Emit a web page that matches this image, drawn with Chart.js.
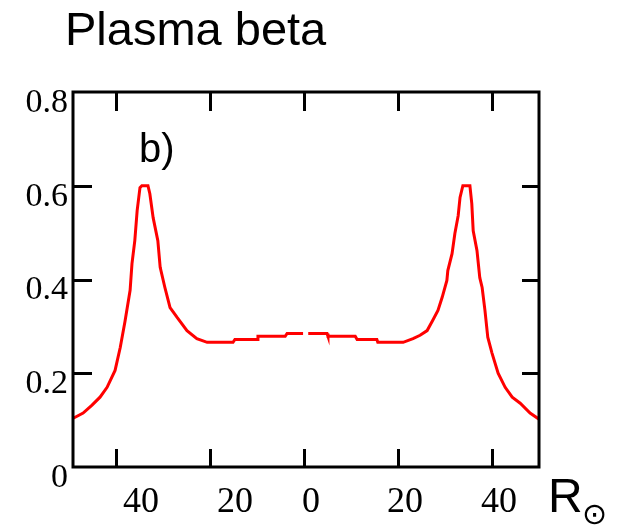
<!DOCTYPE html>
<html lang="en">

<head>
    <meta charset="UTF-8">
    <title>Plasma beta</title>
    <script src="https://cdn.jsdelivr.net/npm/chart.js@4.4.0/dist/chart.umd.min.js"></script>
    <style>
        html,
        body {
            margin: 0;
            background: #fff;
        }

        .wrap {
            position: relative;
            width: 617px;
            height: 528px;
        }

        .txt {
            position: absolute;
            font-family: "Liberation Sans", Arial, sans-serif;
            color: #000;
            white-space: nowrap;
        }

        #title {
            left: 65px;
            top: 5px;
            font-size: 47px;
            line-height: 47px;
        }

        #panel {
            left: 139px;
            top: 128px;
            font-size: 40px;
            line-height: 40px;
        }

        #unit {
            left: 548px;
            top: 472px;
            font-size: 48px;
            line-height: 48px;
        }

        #sun {
            left: 582px;
            top: 499px;
            font-family: "DejaVu Sans", sans-serif;
            font-size: 30px;
            line-height: 30px;
        }
    </style>
</head>

<body>
    <div class="wrap">
        <canvas id="myChart" width="617" height="528"></canvas>
        <div class="txt" id="title">Plasma beta</div>
        <div class="txt" id="panel">b)</div>
        <div class="txt" id="unit">R</div>
        <div class="txt" id="sun">⊙</div>
    </div>

    <script>
        // distance (solar radii) and plasma beta
        var xs = [-49.1, -47.0, -45.1, -43.4, -41.9, -40.2, -39.1, -38.1, -37.0, -36.6, -36.0, -35.5, -34.9,
            -34.5, -33.2, -32.8, -32.1, -31.1, -30.6, -29.6, -28.5, -27.0, -24.9, -22.8, -20.6, -15.1, -14.7,
            -10.0, -9.8, -4.0, -3.6, -0.2, 0.4, 0.9, 4.9, 5.1, 10.9, 11.3, 15.5, 15.7, 21.1, 23.2, 24.7, 26.2,
            27.4, 28.5, 29.4, 30.4, 30.6, 31.5, 32.1, 32.8, 33.2, 33.8, 35.3, 35.7, 36.0, 36.8, 37.4, 37.9,
            38.5, 39.1, 40.0, 41.3, 42.8, 44.3, 46.0, 48.1, 50.0];
        var beta = [0.104, 0.115, 0.132, 0.149, 0.17, 0.206, 0.255, 0.31, 0.377, 0.434, 0.483, 0.547, 0.596,
            0.6, 0.6, 0.583, 0.532, 0.483, 0.426, 0.383, 0.34, 0.319, 0.291, 0.274, 0.266, 0.266, 0.272,
            0.272, 0.279, 0.279, 0.285, 0.285, null, 0.285, 0.285, 0.279, 0.279, 0.272, 0.272, 0.266, 0.266,
            0.274, 0.281, 0.291, 0.313, 0.334, 0.362, 0.398, 0.419, 0.455, 0.498, 0.536, 0.575, 0.6, 0.6,
            0.562, 0.504, 0.462, 0.404, 0.383, 0.334, 0.277, 0.243, 0.2, 0.17, 0.149, 0.136, 0.115, 0.102];

        var xTicks = [-40, -20, 0, 20, 40];
        var yTicks = [0, 0.2, 0.4, 0.6, 0.8];

        // box round the plot with inward ticks on all four sides
        var framePlugin = {
            id: 'frame',
            afterDatasetsDraw: function (chart) {
                var ctx = chart.ctx;
                var a = chart.chartArea;
                var sx = chart.scales.x;
                var sy = chart.scales.y;
                ctx.save();
                ctx.strokeStyle = '#000';
                ctx.lineWidth = 3;
                ctx.lineCap = 'butt';
                ctx.strokeRect(a.left, a.top, a.right - a.left, a.bottom - a.top);
                ctx.beginPath();
                xTicks.forEach(function (v) {
                    var px = Math.round(sx.getPixelForValue(v)) + 0.5;
                    ctx.moveTo(px, a.bottom);
                    ctx.lineTo(px, a.bottom - 18);
                    ctx.moveTo(px, a.top);
                    ctx.lineTo(px, a.top + 19);
                });
                yTicks.slice(1, -1).forEach(function (v) {
                    var py = Math.round(sy.getPixelForValue(v)) + 0.5;
                    ctx.moveTo(a.left, py);
                    ctx.lineTo(a.left + 19, py);
                    ctx.moveTo(a.right, py);
                    ctx.lineTo(a.right - 17, py);
                });
                ctx.stroke();
                ctx.restore();
            }
        };

        var ctx = document.getElementById('myChart').getContext('2d');
        var chart = new Chart(ctx, {
            type: 'line',
            data: {
                datasets: [{
                    data: xs.map(function (x, i) { return { x: x, y: beta[i] }; }),
                    borderColor: '#ff0000',
                    borderWidth: 3,
                    pointRadius: 0,
                    tension: 0,
                    fill: false
                }]
            },
            options: {
                responsive: false,
                animation: false,
                devicePixelRatio: 1,
                layout: { padding: { left: 0, top: 92, right: 78, bottom: 0 } },
                plugins: {
                    legend: { display: false },
                    tooltip: { enabled: false }
                },
                scales: {
                    x: {
                        type: 'linear',
                        min: -49.15,
                        max: 50,
                        grid: { display: false, drawTicks: false },
                        border: { display: false },
                        afterBuildTicks: function (scale) {
                            scale.ticks = xTicks.map(function (v) { return { value: v }; });
                        },
                        afterFit: function (scale) { scale.height = 61; },
                        ticks: {
                            color: '#000',
                            padding: 14,
                            labelOffset: 7,
                            maxRotation: 0,
                            font: { family: '"Liberation Serif", "Times New Roman", serif', size: 36 },
                            callback: function (v) {
                                return v < 0 ? '\u2007\u2007' + Math.abs(v) : String(v);
                            }
                        }
                    },
                    y: {
                        min: 0,
                        max: 0.8,
                        grid: { display: false, drawTicks: false },
                        border: { display: false },
                        afterBuildTicks: function (scale) {
                            scale.ticks = yTicks.map(function (v) { return { value: v }; });
                        },
                        afterFit: function (scale) { scale.width = 73; },
                        ticks: {
                            color: '#000',
                            padding: 5,
                            labelOffset: 11,
                            font: { family: '"Liberation Serif", "Times New Roman", serif', size: 34 },
                            callback: function (v) {
                                return v === 0 ? '0' : v.toFixed(1);
                            }
                        }
                    }
                }
            },
            plugins: [framePlugin]
        });
    </script>
</body>

</html>
